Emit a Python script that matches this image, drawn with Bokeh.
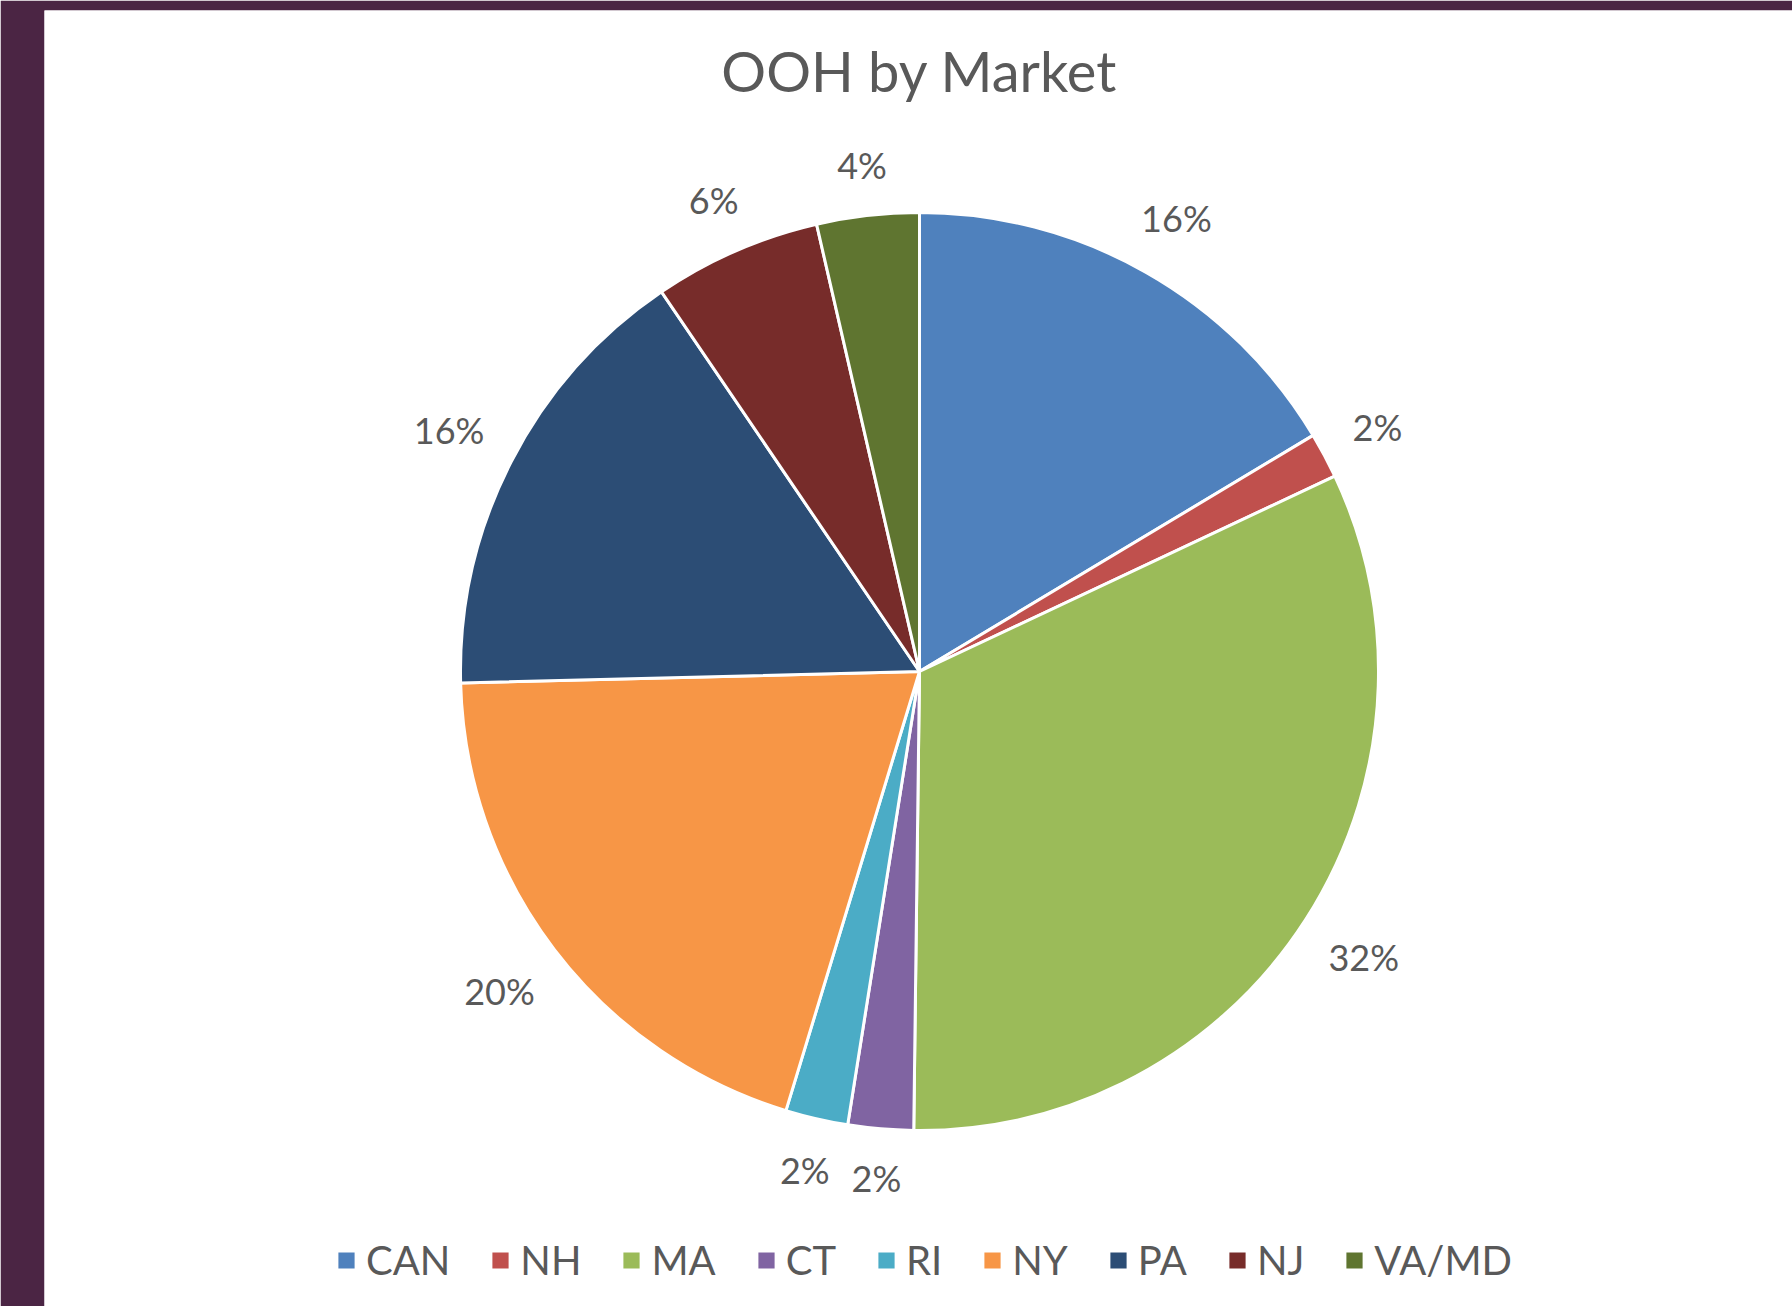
import math
from bokeh.plotting import figure
from bokeh.models import ColumnDataSource, Range1d, Label
from bokeh.core.properties import value
from bokeh.embed import file_html
from bokeh.resources import INLINE

# ---- data ----
markets = ["CAN", "NH", "MA", "CT", "RI", "NY", "PA", "NJ", "VA/MD"]
shares = [16.4, 1.6, 32.2, 2.3, 2.2, 19.9, 15.9, 5.9, 3.6]
colors = ["#4F81BD", "#C0504D", "#9BBB59", "#8064A2", "#4BACC6",
          "#F79646", "#2C4D75", "#772C2A", "#5F7530"]
title_text = "OOH by Market"

# ---- layout ----
W, H = 1792, 1306
BL, BT = 44, 10
FW, FH = W - BL, H - BT
cx, cy, R = 875, FH - 661, 459
TEXT = "#595959"
FONT = "Lato"

total = sum(shares)
starts, ends, lx, ly, labels = [], [], [], [], []
cum = 0.0
for s in shares:
    a0 = cum / total
    a1 = (cum + s) / total
    starts.append(math.pi / 2 - 2 * math.pi * a1)
    ends.append(math.pi / 2 - 2 * math.pi * a0)
    mid = math.pi / 2 - 2 * math.pi * (a0 + a1) / 2
    lab = f"{round(s)}%"
    hw = 11 * len(lab)
    d = R + 34 + hw * abs(math.cos(mid)) + 14 * abs(math.sin(mid))
    lx.append(cx + d * math.cos(mid))
    ly.append(cy + d * math.sin(mid))
    labels.append(lab)
    cum += s

src = ColumnDataSource(dict(market=markets, share=shares, color=colors,
                            start=starts, end=ends))
lsrc = ColumnDataSource(dict(x=lx, y=ly, text=labels))

p = figure(width=W, height=H, output_backend="svg", toolbar_location=None,
           title=None, x_range=Range1d(0, FW), y_range=Range1d(0, FH),
           min_border_left=BL, min_border_top=BT, min_border_right=0,
           min_border_bottom=0)
p.axis.visible = False
p.grid.visible = False
p.outline_line_color = None
p.border_fill_color = "#4B2544"
p.background_fill_color = "white"

p.wedge(x=cx, y=cy, radius=R, start_angle="start", end_angle="end",
        fill_color="color", line_color="white", line_width=3,
        legend_field="market", source=src)

p.text(x="x", y="y", text="text", source=lsrc, text_align="center",
       text_baseline="middle", text_font=value(FONT), text_font_size="36px",
       text_color=TEXT)

p.add_layout(Label(x=cx, y=FH - 60, text=title_text, text_align="center",
                   text_baseline="alphabetic", text_font=FONT,
                   text_font_size="56px", text_color=TEXT))

leg = p.legend[0]
leg.orientation = "horizontal"
leg.location = (290, 22)
leg.label_text_font = FONT
leg.label_text_font_size = "40px"
leg.label_text_color = TEXT
leg.glyph_width = 24
leg.glyph_height = 24
leg.label_standoff = 8
leg.spacing = 38
leg.padding = 0
leg.margin = 0
leg.border_line_color = None
leg.background_fill_alpha = 0

open("out.html", "w").write(file_html(p, INLINE))
